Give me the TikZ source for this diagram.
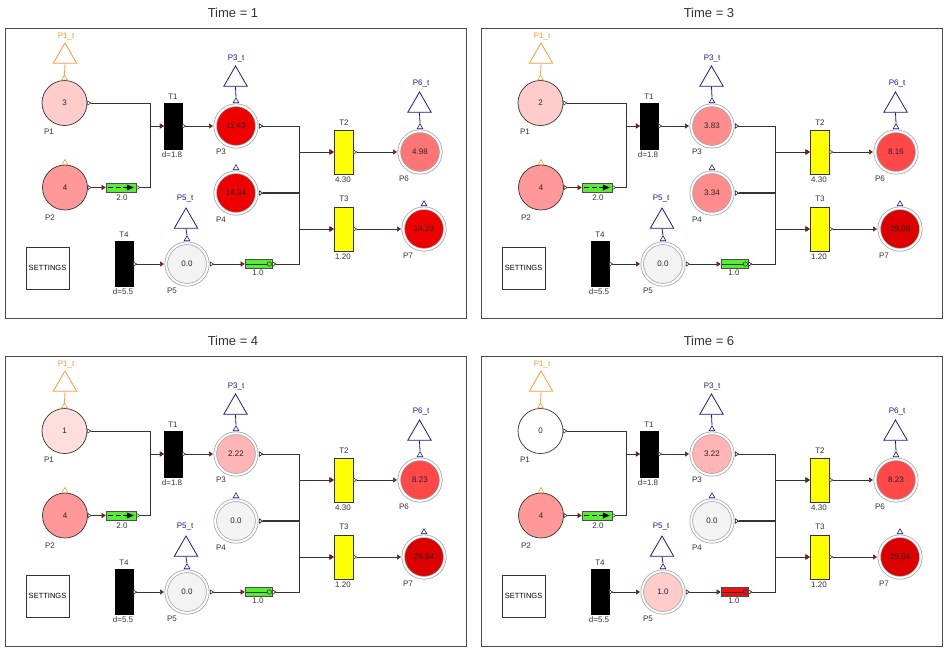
\documentclass[tikz,border=0pt]{standalone}
\usepackage{fontspec}
\setmainfont{Liberation Sans}
\usetikzlibrary{arrows.meta,shapes.geometric,shadows}
\definecolor{pkA}{HTML}{FFCCCC}
\definecolor{pkB}{HTML}{FFDEDE}
\definecolor{pkC}{HTML}{FF9999}
\definecolor{rdA}{HTML}{EE0000}
\definecolor{rdB}{HTML}{DD0000}
\definecolor{slA}{HTML}{FF7575}
\definecolor{slB}{HTML}{FF4848}
\definecolor{slC}{HTML}{FF8C8C}
\definecolor{slD}{HTML}{FFB5B5}
\definecolor{gyA}{HTML}{F3F3F3}
\definecolor{grA}{HTML}{55EE33}
\definecolor{rdR}{HTML}{EE1111}
\definecolor{ylA}{HTML}{FFFF00}
\definecolor{orA}{HTML}{FF9933}
\definecolor{blA}{HTML}{1A1A99}
\definecolor{lnA}{HTML}{333333}
\definecolor{tipR}{HTML}{CC0000}
\tikzset{
  conn/.style={draw=lnA, line width=0.9pt,
    arrows={Triangle[open,fill=white,reversed,length=4pt,width=5pt,line width=0.6pt]-Triangle[fill=tipR,length=4pt,width=5pt,line width=0.5pt]}},
  valfont/.style={font=\fontsize{8}{9}\selectfont, text=black!85},
  place1/.style={circle, draw=black!80, line width=0.7pt, minimum size=45pt, inner sep=0pt, valfont},
  place2/.style={circle, draw=gray!75, double=white, double distance=2pt, line width=0.7pt,
    minimum size=41.6pt, inner sep=0pt, outer sep=2.2pt, valfont,
    circular drop shadow={shadow xshift=0.7pt, shadow yshift=-0.7pt, shadow scale=1.05, fill=black!30, opacity=0.5}},
  tport/.style={regular polygon, regular polygon sides=3, minimum size=6.5pt, inner sep=0pt, fill=white, line width=0.6pt},
  ttri/.style={regular polygon, regular polygon sides=3, minimum size=27pt, inner sep=0pt, line width=0.8pt},
  trblack/.style={rectangle, fill=black, draw=black, minimum width=18pt, minimum height=46pt, inner sep=0pt},
  tryellow/.style={rectangle, fill=ylA, draw=black!80, line width=0.6pt, minimum width=19pt, minimum height=44pt, inner sep=0pt},
  lbl/.style={font=\fontsize{8}{9}\selectfont, text=black!80, inner sep=0pt},
  ttitle/.style={font=\fontsize{13}{15}\selectfont, text=black!80, inner sep=0pt},
  boxG/.style={rectangle, draw=black!70, line width=0.6pt, inner sep=0pt, minimum height=9pt},
  setbox/.style={rectangle, draw=black!80, line width=0.7pt, minimum width=43pt, minimum height=42pt, inner sep=0pt, font=\fontsize{7.5}{9}\selectfont}
}
% #1 shift, #2 prefix, #3 time
\newcommand\pnet[3]{%
\begin{scope}[shift={#1}]
  \node[ttitle] (#2time) at (233,13) {Time = #3};
  \draw[gray!60!black, line width=1pt] (5,28) rectangle (466,318);
  % places
  \node[place1, fill=\colA] (#2P1) at (64.5,103) {\valA};
  \node[place1, fill=pkC] (#2P2) at (65,187.5) {4};
  \node[place2, fill=\colC] (#2P3) at (236,126) {\valC};
  \node[place2, fill=\colD] (#2P4) at (236,193) {\valD};
  \node[place2, fill=\colE] (#2P5) at (187,264) {\valE};
  \node[place2, fill=\colF] (#2P6) at (420,152) {\valF};
  \node[place2, fill=\colG] (#2P7) at (424,229) {\valG};
  \node[lbl] (#2P1l) at (49,132) {P1};
  \node[lbl] (#2P2l) at (50,218) {P2};
  \node[lbl] (#2P3l) at (221,152) {P3};
  \node[lbl] (#2P4l) at (221,220) {P4};
  \node[lbl] (#2P5l) at (172,291) {P5};
  \node[lbl] (#2P6l) at (404,179) {P6};
  \node[lbl] (#2P7l) at (408,256) {P7};
  % top ports
  \node[tport, draw=orA, anchor=south] (#2q1) at (#2P1.north) {};
  \node[tport, draw=orA, anchor=south] (#2q2) at (#2P2.north) {};
  \node[tport, draw=blA, anchor=south] (#2q3) at (#2P3.north) {};
  \node[tport, draw=blA, anchor=south] (#2q4) at (#2P4.north) {};
  \node[tport, draw=blA, anchor=south] (#2q5) at (#2P5.north) {};
  \node[tport, draw=blA, anchor=south] (#2q6) at (#2P6.north) {};
  \node[tport, draw=blA, anchor=south] (#2q7) at (#2P7.north) {};
  % trace triangles
  \node[ttri, draw=orA] (#2t1) at (65,56.5) {};
  \node[ttri, draw=blA] (#2t3) at (235.5,79.5) {};
  \node[ttri, draw=blA] (#2t5) at (186,221.5) {};
  \node[ttri, draw=blA] (#2t6) at (419.5,105.5) {};
  \node[lbl, text=orA] (#2t1l) at (66,37) {P1\_t};
  \node[lbl, text=blA] (#2t3l) at (236,58) {P3\_t};
  \node[lbl, text=blA] (#2t5l) at (185,199) {P5\_t};
  \node[lbl, text=blA] (#2t6l) at (421,83) {P6\_t};
  \draw[orA, line width=0.8pt] (#2t1.south) -- (#2q1.north);
  \draw[blA, line width=0.8pt] (#2t3.south) -- (#2q3.north);
  \draw[blA, line width=0.8pt] (#2t5.south) -- (#2q5.north);
  \draw[blA, line width=0.8pt] (#2t6.south) -- (#2q6.north);
  % transitions
  \node[trblack] (#2T1) at (173,126) {};
  \node[trblack, minimum height=45pt] (#2T4) at (124,264) {};
  \node[tryellow] (#2T2) at (343.5,152) {};
  \node[tryellow] (#2T3) at (343.5,229) {};
  \node[lbl] (#2T1l) at (173,97) {T1};
  \node[lbl] (#2T1d) at (172,155) {d=1.8};
  \node[lbl] (#2T4l) at (124,235) {T4};
  \node[lbl] (#2T4d) at (123,292) {d=5.5};
  \node[lbl] (#2T2l) at (344,123) {T2};
  \node[lbl] (#2T2d) at (343,180) {4.30};
  \node[lbl] (#2T3l) at (344,199) {T3};
  \node[lbl] (#2T3d) at (343,257) {1.20};
  % delay boxes
  \node[boxG, fill=grA, minimum width=30pt] (#2B2) at (121,187.5) {};
  \draw[black, line width=0.9pt, dash pattern=on 5pt off 2.5pt] ([xshift=2.5pt]#2B2.west) -- ([xshift=-8pt]#2B2.east);
  \fill[black] ([xshift=-2.5pt]#2B2.east) -- ++(-7,-3) -- ++(0,6) -- cycle;
  \node[lbl] (#2B2l) at (122,198) {2.0};
  \node[boxG, fill=\colB, minimum width=27pt] (#2B5) at (258.5,264) {};
  \draw[black!80, line width=0.7pt] ([xshift=1pt]#2B5.west) -- ([xshift=-5.2pt]#2B5.east);
  \draw[black!80, line width=0.6pt] ([xshift=-3pt]#2B5.east) circle (2.2pt);
  \node[lbl] (#2B5l) at (258,273) {1.0};
  % settings
  \node[setbox] (#2set) at (47.5,268) {SETTINGS};
  % connectors
  \coordinate (#2jA) at (150,0);
  \coordinate (#2jB) at (299,0);
  \draw[conn] (#2P1.east) -- (#2P1.east -| #2jA) |- (#2T1.west);
  \draw[conn] (#2P2.east) -- (#2B2.west);
  \draw[conn] (#2B2.east) -- (#2B2.east -| #2jA) |- (#2T1.west);
  \draw[conn] (#2T1.east) -- (#2P3.west);
  \draw[conn] (#2P3.east) -- (#2P3.east -| #2jB) |- (#2T2.west);
  \draw[conn] (#2P3.east) -- (#2P3.east -| #2jB) |- (#2T3.west);
  \draw[conn] (#2P4.east) -- (#2P4.east -| #2jB) |- (#2T2.west);
  \draw[conn] (#2P4.east) -- (#2P4.east -| #2jB) |- (#2T3.west);
  \draw[lnA, line width=1.6pt, shorten <=4pt] (#2P4.east) -- (#2P4.east -| #2jB);
  \draw[conn] (#2B5.east) -- (#2B5.east -| #2jB) |- (#2T2.west);
  \draw[conn] (#2B5.east) -- (#2B5.east -| #2jB) |- (#2T3.west);
  \draw[conn] (#2T4.east) -- (#2P5.west);
  \draw[conn] (#2P5.east) -- (#2B5.west);
  \draw[conn] (#2T2.east) -- (#2P6.west);
  \draw[conn] (#2T3.east) -- (#2P7.west);
\end{scope}}

\begin{document}
\begin{tikzpicture}[x=1pt,y=-1pt]
  \useasboundingbox (0,0) rectangle (944,648);
  \fill[white] (0,0) rectangle (944,648);
  % Time = 1
  \def\valA{3}\def\colA{pkA}
  \def\valC{11.43}\def\colC{rdA}
  \def\valD{14.34}\def\colD{rdA}
  \def\valE{0.0}\def\colE{gyA}
  \def\valF{4.98}\def\colF{slA}
  \def\valG{14.23}\def\colG{rdA}
  \def\colB{grA}
  \pnet{(0,0)}{a}{1}
  % Time = 3
  \def\valA{2}\def\colA{pkA}
  \def\valC{3.83}\def\colC{slC}
  \def\valD{3.34}\def\colD{slC}
  \def\valE{0.0}\def\colE{gyA}
  \def\valF{8.16}\def\colF{slB}
  \def\valG{29.08}\def\colG{rdB}
  \def\colB{grA}
  \pnet{(476,0)}{b}{3}
  % Time = 4
  \def\valA{1}\def\colA{pkB}
  \def\valC{2.22}\def\colC{slD}
  \def\valD{0.0}\def\colD{gyA}
  \def\valE{0.0}\def\colE{gyA}
  \def\valF{8.23}\def\colF{slB}
  \def\valG{29.94}\def\colG{rdB}
  \def\colB{grA}
  \pnet{(0,328)}{c}{4}
  % Time = 6
  \def\valA{0}\def\colA{white}
  \def\valC{3.22}\def\colC{slD}
  \def\valD{0.0}\def\colD{gyA}
  \def\valE{1.0}\def\colE{pkA}
  \def\valF{8.23}\def\colF{slB}
  \def\valG{29.94}\def\colG{rdB}
  \def\colB{rdR}
  \pnet{(476,328)}{d}{6}
\end{tikzpicture}
\end{document}
